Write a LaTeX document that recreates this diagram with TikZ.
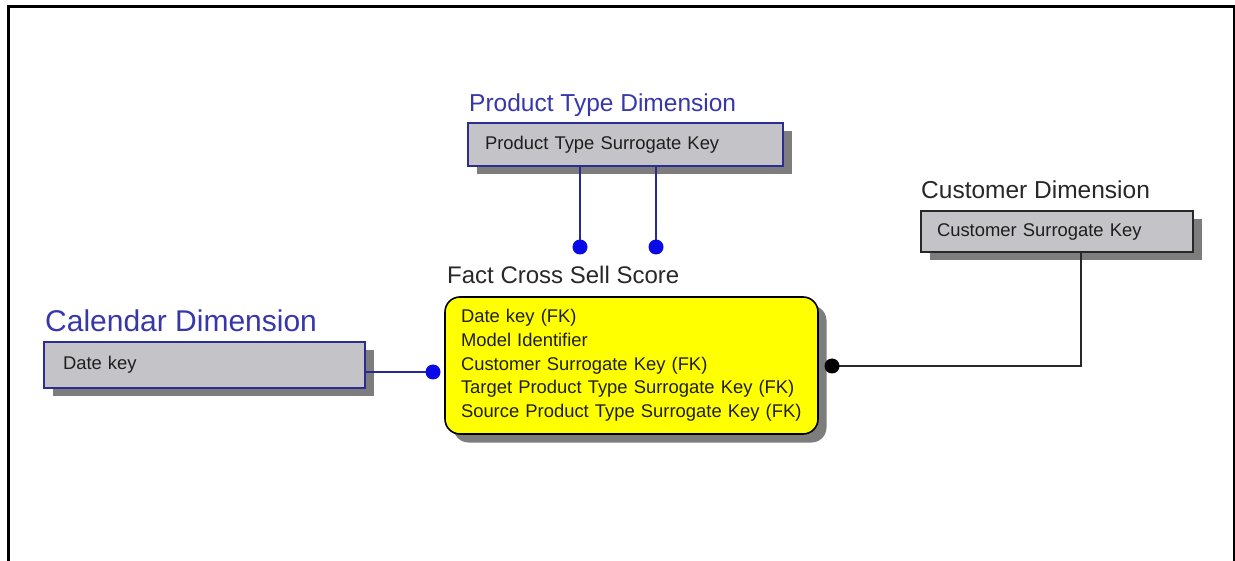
\documentclass[tikz,border=0pt]{standalone}
\usepackage{fontspec}
\setmainfont{Liberation Sans}
\usetikzlibrary{shadows}
\definecolor{titleblue}{RGB}{55,55,170}
\definecolor{borderblue}{RGB}{45,45,145}
\definecolor{lineblue}{RGB}{40,40,150}
\definecolor{dotblue}{RGB}{10,10,230}
\definecolor{boxgray}{RGB}{196,196,200}
\definecolor{factyellow}{RGB}{255,255,0}
\definecolor{shadowgray}{RGB}{125,125,125}
\definecolor{textdark}{RGB}{30,30,30}
\definecolor{titledark}{RGB}{40,40,40}
\begin{document}
\begin{tikzpicture}[x=1pt,y=-1pt,
  shadowed/.style={drop shadow={shadow xshift=8.5pt, shadow yshift=-8.5pt, opacity=1, fill=shadowgray}},
  dimbox/.style={shadowed, draw, line width=1.6pt, fill=boxgray, inner ysep=0pt, align=left,
    text=textdark, font=\fontsize{18.4}{23.7}\selectfont},
  bluebox/.style={dimbox, draw=borderblue},
  graybox/.style={dimbox, draw=titledark},
  factbox/.style={dimbox, draw=black, fill=factyellow, rounded corners=15pt},
  titleblue/.style={anchor=base west, inner sep=0pt, text=titleblue},
  titleblack/.style={anchor=base west, inner sep=0pt, text=titledark},
  blueline/.style={draw=lineblue, line width=2pt},
  grayline/.style={draw=titledark, line width=2pt},
  bluedot/.style={fill=dotblue},
  blackdot/.style={fill=black}]
\useasboundingbox (0,0) rectangle (1235,561);
\fill[white] (0,0) rectangle (1235,561);
% frame
\draw[line width=3pt] (8.5,565) -- (8.5,6.5) -- (1234,6.5) -- (1234,565);

% titles
\node[titleblue, font=\fontsize{24.5}{28}\selectfont] (pttitle) at (469,112) {Product Type Dimension};
\node[titleblue, font=\fontsize{30}{34}\selectfont] (caltitle) at (45,332) {Calendar Dimension};
\node[titleblack, font=\fontsize{24}{28}\selectfont] (facttitle) at (447,284) {Fact Cross Sell Score};
\node[titleblack, font=\fontsize{24.5}{28}\selectfont] (custtitle) at (921,199) {Customer Dimension};

% boxes
\node[bluebox, inner xsep=17pt, text width=281pt, minimum height=43pt] (ptbox) at (625.5,144.5) {Product Type Surrogate Key};
\node[bluebox, inner xsep=19pt, text width=283pt, minimum height=46pt] (cal) at (204.5,365) {Date key};
\node[graybox, inner xsep=16pt, text width=240pt, minimum height=41pt] (cust) at (1057,231.5) {Customer Surrogate Key};
\node[factbox, inner xsep=16pt, text width=341pt, minimum height=137pt] (fact) at (631.5,365.5)
  {Date key (FK)\\Model Identifier\\Customer Surrogate Key (FK)\\Target Product Type Surrogate Key (FK)\\Source Product Type Surrogate Key (FK)};

% connector end points
\coordinate (pd1) at (580,247);
\coordinate (pd2) at (656,247);
\coordinate (cd) at (433,372);
\coordinate (kc) at (1081,366);
\coordinate (kd) at (832,366);

% connectors
\draw[blueline] (ptbox.south -| pd1) -- (pd1);
\draw[blueline] (ptbox.south -| pd2) -- (pd2);
\draw[blueline] (cal.east |- cd) -- (cd);
\draw[grayline] (cust.south -| kc) -- (kc) -- (kd);

\fill[bluedot] (pd1) circle[radius=7.5pt];
\fill[bluedot] (pd2) circle[radius=7.5pt];
\fill[bluedot] (cd) circle[radius=7.5pt];
\fill[blackdot] (kd) circle[radius=7.5pt];
\end{tikzpicture}
\end{document}
